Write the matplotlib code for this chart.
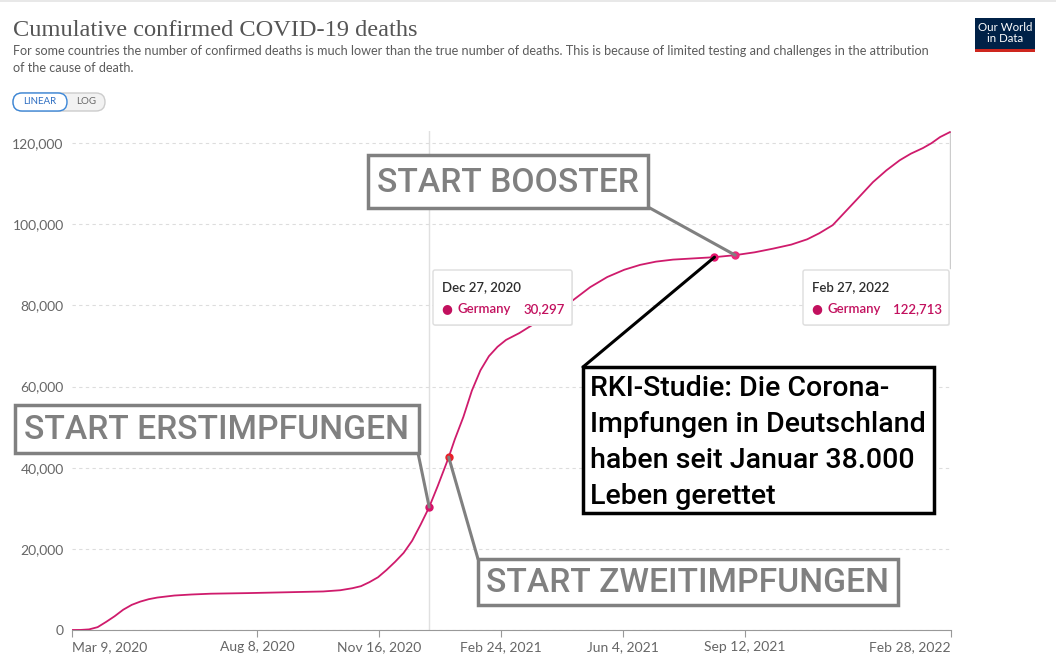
import numpy as np
import pandas as pd
import matplotlib
matplotlib.use('Agg')
from matplotlib import pyplot as plt
import matplotlib.dates as mdates
from matplotlib.patches import Rectangle, FancyBboxPatch, ConnectionPatch
from matplotlib.transforms import IdentityTransform

# Germany, cumulative confirmed COVID-19 deaths
dates = ['2020-03-09', '2020-03-16', '2020-03-23', '2020-03-30', '2020-04-06', '2020-04-13',
         '2020-04-20', '2020-04-27', '2020-05-04', '2020-05-11', '2020-05-18', '2020-06-01',
         '2020-06-15', '2020-07-01', '2020-08-01', '2020-09-01', '2020-10-01', '2020-10-15',
         '2020-10-25', '2020-11-01', '2020-11-08', '2020-11-15', '2020-11-22', '2020-11-29',
         '2020-12-06', '2020-12-13', '2020-12-20', '2020-12-27', '2021-01-03', '2021-01-10',
         '2021-01-12', '2021-01-17', '2021-01-24', '2021-01-31', '2021-02-07', '2021-02-14',
         '2021-02-21', '2021-02-28', '2021-03-11', '2021-03-28', '2021-04-11', '2021-04-24',
         '2021-05-08', '2021-05-22', '2021-06-05', '2021-06-18', '2021-07-01', '2021-07-15',
         '2021-08-01', '2021-08-18', '2021-09-04', '2021-09-20', '2021-10-05', '2021-10-20',
         '2021-11-02', '2021-11-12', '2021-11-23', '2021-12-03', '2021-12-13', '2021-12-26',
         '2022-01-06', '2022-01-17', '2022-01-26', '2022-02-05', '2022-02-12', '2022-02-19',
         '2022-02-27']
deaths = [0, 15, 150, 700, 2000, 3400,
          5000, 6200, 7000, 7600, 8000, 8500,
          8750, 8950, 9100, 9300, 9500, 9800,
          10300, 10800, 11800, 13000, 14800, 16800,
          19000, 22000, 26000, 30297, 35500, 41000,
          42600, 47000, 52500, 59000, 64000, 67500,
          69800, 71500, 73200, 76400, 78800, 81300,
          84500, 87000, 88800, 90000, 90800, 91300,
          91600, 91900, 92400, 93100, 94000, 95000,
          96300, 97800, 99800, 103000, 106200, 110400,
          113300, 115800, 117400, 118800, 120000, 121500,
          122713]

tick_dates = ['2020-03-09', '2020-08-08', '2020-11-16', '2021-02-24', '2021-06-04', '2021-09-12', '2022-02-28']
tick_labels = ['Mar 9, 2020', 'Aug 8, 2020', 'Nov 16, 2020', 'Feb 24, 2021', 'Jun 4, 2021', 'Sep 12, 2021', 'Feb 28, 2022']
y_ticks = [0, 20000, 40000, 60000, 80000, 100000, 120000]

marker_dates = ['2020-12-27', '2021-01-12', '2021-08-18', '2021-09-04']
marker_colors = ['#d6136a', '#e8202a', '#e8146e', '#ea2a7a']

W, H = 1056, 665
LINE = '#cf1b6c'
GREY_TXT = '#666666'

x_num = mdates.datestr2num(dates)
lookup = dict(zip(dates, deaths))


def fx(x):
    return x / W


def fy(y):
    return 1 - y / H


def pt(d):
    # data coordinates of a point on the series
    return (mdates.datestr2num(d), float(lookup[d]))


fig = plt.figure(figsize=(W / 100, H / 100), dpi=100)
ax = fig.add_axes([fx(72), fy(630), fx(951) - fx(72), fy(131) - fy(630)])

ax.plot(x_num, deaths, color=LINE, lw=1.3, zorder=3)
ax.set_xlim(mdates.datestr2num('2020-03-09'), mdates.datestr2num('2022-02-28'))
ax.set_ylim(0, 123000)

ax.set_yticks(y_ticks)
ax.set_yticklabels([f'{v:,}' for v in y_ticks], fontsize=10, color=GREY_TXT, family='Lato')
ax.set_xticks(mdates.datestr2num(tick_dates))
ax.set_xticklabels(tick_labels, fontsize=10, color=GREY_TXT, family='Lato')
xt = ax.get_xticklabels()
xt[0].set_ha('left')
xt[-1].set_ha('right')
ax.tick_params(axis='y', length=0, pad=6)
ax.tick_params(axis='x', length=5, color='#999999', pad=3)
ax.grid(axis='y', color='#dddddd', lw=0.8, ls=(0, (3, 3)))
for sp in ['top', 'right', 'left']:
    ax.spines[sp].set_visible(False)
ax.spines['bottom'].set_color('#999999')

# hover lines
ax.axvline(mdates.datestr2num('2020-12-27'), color='#e0e0e0', lw=1, zorder=1)
ax.axvline(mdates.datestr2num('2022-02-27'), ymin=(630 - 268) / (630 - 131), ymax=1, color='#cccccc', lw=1, zorder=1)

# markers
for d, c in zip(marker_dates, marker_colors):
    ax.plot(*pt(d), 'o', color=c, ms=5, zorder=5)

# title block
fig.text(fx(13), fy(30), 'Cumulative confirmed COVID-19 deaths', fontsize=17.6, color='#555555',
         family='Liberation Serif', va='center')
fig.text(fx(13), fy(51), 'For some countries the number of confirmed deaths is much lower than the true number of deaths. '
         'This is because of limited testing and challenges in the attribution', fontsize=9.1, color='#5b5b5b',
         family='Lato', va='center')
fig.text(fx(13), fy(68), 'of the cause of death.', fontsize=9.1, color='#5b5b5b', family='Lato', va='center')

# LINEAR / LOG toggle
idt = IdentityTransform()
fig.patches.append(FancyBboxPatch((13, H - 111), 92, 18, boxstyle='round,pad=0,rounding_size=9',
                                  fc='#f2f2f2', ec='#cccccc', lw=1, transform=idt, figure=fig))
fig.patches.append(FancyBboxPatch((13, H - 111), 54, 18, boxstyle='round,pad=0,rounding_size=9',
                                  fc='white', ec='#3a86d8', lw=1, transform=idt, figure=fig))
fig.text(fx(40), fy(102), 'LINEAR', fontsize=7, color='#2f6fc2', family='Lato', ha='center', va='center')
fig.text(fx(86), fy(102), 'LOG', fontsize=7, color='#666666', family='Lato', ha='center', va='center')

# logo
fig.patches.append(Rectangle((fx(975), fy(52)), fx(60), fy(18) - fy(52), fc='#002147', transform=fig.transFigure, figure=fig))
fig.patches.append(Rectangle((fx(975), fy(52)), fx(60), fy(49) - fy(52), fc='#ce261e', transform=fig.transFigure, figure=fig))
fig.text(fx(1005), fy(33), 'Our World\nin Data', fontsize=8.3, color='white', family='Lato',
         ha='center', va='center', linespacing=0.9)

# tooltips
for x0, x1, date_txt, val_txt in [(433, 572, 'Dec 27, 2020', '30,297'), (803, 949, 'Feb 27, 2022', '122,713')]:
    fig.patches.append(FancyBboxPatch((x0 + 1, H - 326), x1 - x0, 55, boxstyle='round,pad=0,rounding_size=2',
                                      fc='#eeeeee', ec='none', transform=idt, figure=fig, zorder=6))
    fig.patches.append(FancyBboxPatch((x0, H - 325), x1 - x0, 55, boxstyle='round,pad=0,rounding_size=2',
                                      fc='white', ec='#dddddd', lw=1, transform=idt, figure=fig, zorder=7))
    fig.text(fx(x0 + 9), fy(287), date_txt, fontsize=9.5, color='#2d2d2d', family='Lato', weight='semibold',
             va='center', zorder=8)
    fig.text(fx(x0 + 14), fy(309), '\u25cf', fontsize=9, color='#c2105e', family='DejaVu Sans',
             ha='center', va='center', zorder=8)
    fig.text(fx(x0 + 25), fy(309), 'Germany', fontsize=9.5, color='#c2105e', family='Lato', weight='semibold',
             va='center', zorder=8)
    fig.text(fx(x1 - 7), fy(309), val_txt, fontsize=9.5, color='#c2105e', family='Lato', weight='semibold',
             ha='right', va='center', zorder=8)

# grey annotation boxes with leader lines
ANN = '#808080'
boxes = [
    ('START BOOSTER', (368, 155, 648, 208), (648, 207), '2021-09-04'),
    ('START ERSTIMPFUNGEN', (15, 405, 419, 453), (418, 453), '2020-12-27'),
    ('START ZWEITIMPFUNGEN', (478, 559, 898, 605), (478, 559), '2021-01-12'),
]
for txt, (x0, y0, x1, y1), corner, d in boxes:
    con = ConnectionPatch(xyA=(fx(corner[0]), fy(corner[1])), coordsA=fig.transFigure,
                          xyB=pt(d), coordsB=ax.transData, color=ANN, lw=2.2, zorder=9)
    fig.add_artist(con)
    fig.patches.append(Rectangle((fx(x0), fy(y1)), fx(x1 - x0), fy(y0) - fy(y1), fc='white', ec=ANN, lw=2.5,
                                 transform=fig.transFigure, figure=fig, zorder=10))
    fig.text(fx((x0 + x1) / 2), fy((y0 + y1) / 2 + 1), txt, fontsize=24.2, color=ANN, family='Roboto',
             weight='medium', ha='center', va='center', zorder=11)

# black RKI box
con = ConnectionPatch(xyA=(fx(583), fy(367)), coordsA=fig.transFigure, xyB=pt('2021-08-18'), coordsB=ax.transData,
                      color='black', lw=2.2, zorder=9)
fig.add_artist(con)
fig.patches.append(Rectangle((fx(583), fy(513)), fx(351), fy(367) - fy(513), fc='white', ec='black', lw=2.5,
                             transform=fig.transFigure, figure=fig, zorder=10))
rki_lines = ['RKI-Studie: Die Corona-', 'Impfungen in Deutschland', 'haben seit Januar 38.000', 'Leben gerettet']
for i, ln in enumerate(rki_lines):
    fig.text(fx(590), fy(389 + 36 * i), ln, fontsize=20.5, color='black', family='Roboto', weight='medium',
             va='center', zorder=11)

# thin top border
fig.patches.append(Rectangle((0, fy(2)), 1, fy(0) - fy(2), fc='#e8e8e8', ec='none', transform=fig.transFigure, figure=fig))

fig.savefig('out.png', dpi=100)
